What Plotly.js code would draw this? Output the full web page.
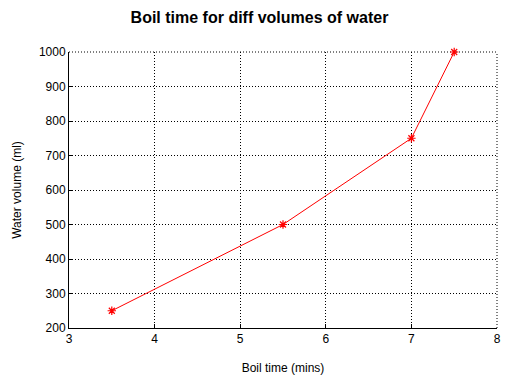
<!DOCTYPE html>
<html><head><meta charset="utf-8">
<script src="https://cdn.plot.ly/plotly-3.0.1.min.js"></script>
<style>html,body{margin:0;padding:0;background:#fff}#chart{width:519px;height:388px}</style>
</head><body><div id="chart"></div>
<script>
const boilTime = [3.5, 5.5, 7, 7.5];
const waterVolume = [250, 500, 750, 1000];
const xTicks = [3, 4, 5, 6, 7, 8];
const yTicks = [200, 300, 400, 500, 600, 700, 800, 900, 1000];

const trace = {
  x: boilTime, y: waterVolume, type: 'scatter', mode: 'lines+markers',
  cliponaxis: false,
  line: {color: '#ff0000', width: 1},
  marker: {symbol: 'asterisk-open', size: 7, color: '#ff0000', line: {color: '#ff0000', width: 1.2}},
  showlegend: false
};
const font = {family: 'Liberation Sans, Arial, sans-serif', size: 12, color: '#000'};
const dot = '1px,2px';
const layout = {
  width: 519, height: 388,
  margin: {l: 69, r: 22, t: 52, b: 60},
  paper_bgcolor: '#fff', plot_bgcolor: '#fff',
  font: font,
  title: {text: '<b>Boil time for diff volumes of water</b>', x: 0.5, xanchor: 'center', y: 0.955, yanchor: 'middle', font: {family: 'Liberation Sans, Arial, sans-serif', size: 16, color: '#000'}},
  xaxis: {
    range: [3, 8], tickvals: xTicks, ticktext: xTicks.map(String),
    showgrid: true, gridcolor: '#000', griddash: dot, gridwidth: 1,
    showline: true, linecolor: '#000', linewidth: 1,
    ticks: 'inside', ticklen: 4, tickcolor: '#000',
    zeroline: false, tickfont: font,
    title: {text: 'Boil time (mins)', font: font, standoff: 18}
  },
  yaxis: {
    range: [200, 1000], tickvals: yTicks, ticktext: yTicks.map(String),
    showgrid: true, gridcolor: '#000', griddash: dot, gridwidth: 1,
    showline: true, linecolor: '#000', linewidth: 1,
    ticks: 'inside', ticklen: 4, tickcolor: '#000',
    zeroline: false, tickfont: font,
    title: {text: 'Water volume (ml)', font: font, standoff: 14}
  },
  shapes: [
    {type: 'line', xref: 'paper', yref: 'paper', x0: 0, x1: 1, y0: 1, y1: 1, line: {color: '#000', width: 1, dash: dot}, layer: 'below'},
    {type: 'line', xref: 'paper', yref: 'paper', x0: 1, x1: 1, y0: 0, y1: 1, line: {color: '#000', width: 1, dash: dot}, layer: 'below'}
  ]
};
Plotly.newPlot('chart', [trace], layout, {staticPlot: true, displayModeBar: false});
</script></body></html>
